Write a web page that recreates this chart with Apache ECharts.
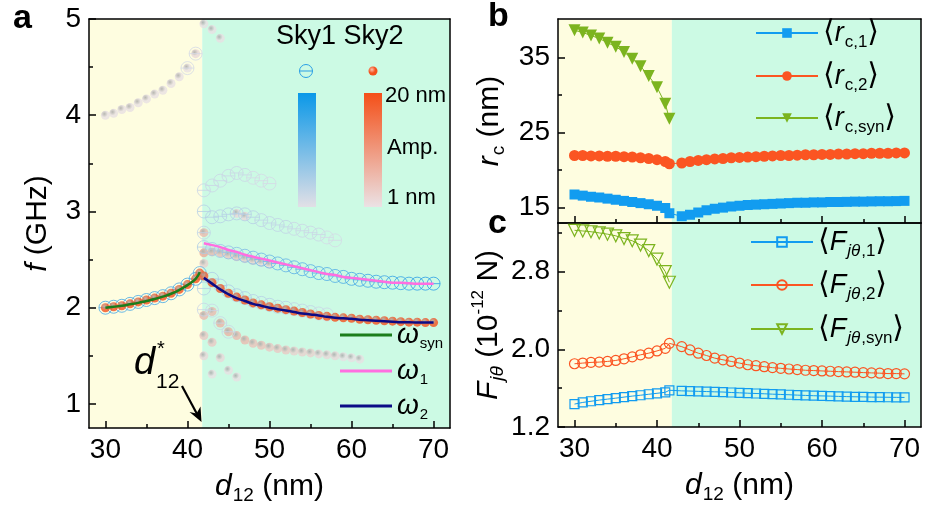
<!DOCTYPE html>
<html>
<head>
<meta charset="utf-8">
<script src="https://cdn.jsdelivr.net/npm/echarts@6/dist/echarts.min.js"></script>
<style>
  html, body { margin: 0; padding: 0; background: #fff; }
  #chart { width: 933px; height: 510px; }
</style>
</head>
<body>
<div id="chart"></div>
<script>
// ---------- panel a : mode frequencies f (GHz) vs d12 (nm) ----------
// synchronized region (both skyrmions share one mode)
const xSync = [30, 31, 32, 33, 34, 35, 36, 37, 38, 39, 40, 41, 41.5];
const fSync = [2.00, 2.01, 2.02, 2.04, 2.06, 2.08, 2.10, 2.12, 2.15, 2.19, 2.24, 2.30, 2.36];
const ampSync1 = [17, 17, 17, 17, 17, 17, 17, 17, 17, 17, 17, 16, 14];
const ampSync2 = [20, 20, 20, 20, 20, 20, 20, 20, 20, 20, 20, 20, 19];
const wSyn = [2.00, 2.01, 2.02, 2.035, 2.05, 2.07, 2.09, 2.115, 2.145, 2.185, 2.235, 2.30, 2.37];

// split region
const xSplit = [42, 43, 44, 45, 46, 47, 48, 49, 50, 51, 52, 53, 54, 55, 56, 57, 58, 59, 60, 61, 62, 63, 64, 65, 66, 67, 68, 69, 70];
const f1Split = [2.63, 2.61, 2.59, 2.575, 2.56, 2.54, 2.52, 2.50, 2.48, 2.46, 2.44, 2.42, 2.40, 2.38, 2.36, 2.35, 2.33, 2.32, 2.30, 2.29, 2.28, 2.27, 2.265, 2.26, 2.255, 2.25, 2.25, 2.25, 2.25];
const amp1Split = [6, 7, 8, 9, 10, 11, 12, 13, 13, 14, 14, 15, 15, 15, 16, 16, 16, 17, 17, 17, 18, 18, 18, 19, 19, 19, 20, 20, 20];
const f2Split = [2.33, 2.26, 2.20, 2.15, 2.11, 2.08, 2.05, 2.03, 2.01, 1.995, 1.98, 1.965, 1.95, 1.935, 1.92, 1.91, 1.90, 1.895, 1.89, 1.88, 1.875, 1.87, 1.865, 1.86, 1.855, 1.85, 1.85, 1.845, 1.845];
const amp2Split = [18, 19, 19, 20, 20, 20, 20, 20, 20, 20, 20, 20, 20, 20, 20, 20, 20, 20, 20, 20, 20, 20, 20, 20, 20, 20, 20, 20, 20];
const w1 = [2.67, 2.65, 2.63, 2.60, 2.58, 2.55, 2.53, 2.51, 2.49, 2.47, 2.45, 2.43, 2.41, 2.39, 2.37, 2.35, 2.34, 2.32, 2.31, 2.30, 2.29, 2.28, 2.27, 2.26, 2.26, 2.255, 2.25, 2.25, 2.25];
const w2 = [2.31, 2.25, 2.19, 2.14, 2.10, 2.07, 2.04, 2.02, 2.00, 1.985, 1.97, 1.955, 1.94, 1.93, 1.92, 1.905, 1.895, 1.89, 1.885, 1.875, 1.87, 1.865, 1.86, 1.855, 1.85, 1.85, 1.845, 1.845, 1.845];

// weak modes, [d12, f, amplitude nm]
const sky1Weak = [
  [42, 3.22, 3], [43, 3.27, 3], [44, 3.32, 3], [45, 3.37, 3], [46, 3.40, 3], [47, 3.38, 3], [48, 3.35, 2], [49, 3.32, 2], [50, 3.29, 2],
  [42, 3.00, 5], [43, 2.94, 5], [44, 2.95, 5], [45, 2.97, 5], [46, 2.98, 5], [47, 2.97, 5], [48, 2.94, 5], [49, 2.91, 4], [50, 2.88, 4],
  [51, 2.86, 4], [52, 2.84, 4], [53, 2.82, 3], [54, 2.80, 3], [55, 2.78, 3], [56, 2.76, 3], [57, 2.73, 2], [58, 2.70, 2],
  [42, 2.78, 4], [42, 2.20, 5], [42, 1.98, 3], [43, 1.97, 3], [40, 4.49, 2], [41, 4.64, 2],
  [43, 2.30, 6], [44, 2.23, 6], [45, 2.17, 6], [46, 2.13, 6], [47, 2.10, 6], [48, 2.07, 5], [49, 2.05, 5], [50, 2.03, 5],
  [51, 2.01, 5], [52, 2.00, 5], [53, 1.985, 4], [54, 1.97, 4], [55, 1.955, 4], [56, 1.94, 3], [57, 1.93, 3],
  [44, 1.84, 3], [45, 1.75, 3]
];
const sky2Weak = [
  [30, 4.00, 1], [31, 4.02, 1], [32, 4.06, 1], [33, 4.08, 1], [34, 4.13, 1], [35, 4.17, 1], [36, 4.22, 1], [37, 4.26, 1],
  [38, 4.33, 1], [39, 4.40, 1], [40, 4.49, 1], [41, 4.64, 2], [42, 4.95, 1], [43, 4.89, 1], [44, 4.80, 1],
  [46, 2.98, 2], [47, 2.95, 2], [42, 2.78, 6], [42, 2.46, 3],
  [42, 2.57, 8], [43, 2.58, 6], [44, 2.57, 5], [45, 2.55, 4], [46, 2.53, 4], [47, 2.51, 3], [48, 2.49, 3], [49, 2.47, 2], [50, 2.45, 2],
  [42, 1.92, 6], [43, 1.96, 6], [44, 1.84, 7], [45, 1.75, 7], [46, 1.71, 6], [47, 1.665, 6], [48, 1.63, 5], [49, 1.61, 5],
  [50, 1.59, 4], [51, 1.575, 4], [52, 1.56, 4], [53, 1.55, 3], [54, 1.54, 3], [55, 1.53, 3], [56, 1.52, 2], [57, 1.51, 2],
  [58, 1.50, 2], [59, 1.49, 1], [60, 1.48, 1], [61, 1.465, 1],
  [42, 1.71, 4], [43, 1.64, 4], [42, 1.50, 2], [44, 1.48, 2], [43, 1.31, 1], [45, 1.35, 1], [46, 1.28, 1]
];

// ---------- panels b, c ----------
const d12 = [30, 31, 32, 33, 34, 35, 36, 37, 38, 39, 40, 41, 41.5, 43, 44, 45, 46, 47, 48, 49, 50, 51, 52, 53, 54, 55, 56, 57, 58, 59, 60, 61, 62, 63, 64, 65, 66, 67, 68, 69, 70];
const rc1 = [16.7, 16.55, 16.4, 16.3, 16.15, 16.0, 15.85, 15.7, 15.55, 15.4, 15.2, 14.9, 14.2,
  13.8, 14.0, 14.3, 14.6, 14.8, 14.95, 15.1, 15.2, 15.3, 15.35, 15.4, 15.45, 15.5, 15.55, 15.6, 15.6, 15.65, 15.65, 15.7, 15.7, 15.72, 15.75, 15.75, 15.78, 15.8, 15.8, 15.82, 15.85];
const rc2 = [21.9, 21.9, 21.85, 21.85, 21.8, 21.8, 21.75, 21.7, 21.6, 21.5, 21.35, 21.1, 20.8,
  20.9, 21.1, 21.25, 21.35, 21.45, 21.5, 21.6, 21.65, 21.7, 21.75, 21.8, 21.85, 21.9, 21.9, 21.95, 22.0, 22.0, 22.05, 22.05, 22.1, 22.1, 22.15, 22.15, 22.2, 22.2, 22.2, 22.25, 22.25];
const rcSyn = [38.6, 38.3, 37.9, 37.5, 36.95, 36.4, 35.7, 34.8, 33.8, 32.5, 31.0, 28.8, 26.8];
const F1 = [1.436, 1.453, 1.465, 1.477, 1.487, 1.497, 1.508, 1.518, 1.527, 1.537, 1.547, 1.557, 1.578,
  1.572, 1.570, 1.567, 1.565, 1.562, 1.560, 1.555, 1.552, 1.548, 1.545, 1.542, 1.538, 1.535, 1.532, 1.528, 1.525, 1.522, 1.520, 1.518, 1.515, 1.513, 1.511, 1.510, 1.508, 1.507, 1.506, 1.505, 1.504];
const F2 = [1.851, 1.858, 1.865, 1.868, 1.875, 1.885, 1.902, 1.922, 1.943, 1.960, 1.983, 2.010, 2.061,
  2.027, 1.993, 1.960, 1.936, 1.909, 1.892, 1.875, 1.858, 1.841, 1.831, 1.821, 1.811, 1.804, 1.797, 1.791, 1.784, 1.781, 1.777, 1.774, 1.770, 1.767, 1.764, 1.760, 1.757, 1.754, 1.750, 1.750, 1.747];
const Fsyn = [3.225, 3.218, 3.21, 3.198, 3.185, 3.168, 3.14, 3.117, 3.073, 3.016, 2.928, 2.80, 2.69];

// ticks
const xMajor = [30, 40, 50, 60, 70];
const xMinor = [35, 45, 55, 65];
const yaMajor = [1, 2, 3, 4, 5];
const yaMinor = [1.5, 2.5, 3.5, 4.5];
const ybMajor = [15, 25, 35];
const ybMinor = [20, 30];
const ycMajor = [1.2, 2.0, 2.8];
const ycMinor = [1.6, 2.4, 3.2];

const FONT = '"Liberation Sans", Arial, sans-serif';
const BLUE_A = '#2a9fe6', PALE_BLUE = '#dddde6';
const ORANGE_A = '#f4511e', PALE_ORANGE = '#e8e0e3';
const BLUE = '#129cf0', RED = '#fb5522', GREEN = '#7cb41f';
const YELLOW_BG = '#fefde0', GREEN_BG = '#ccfae4';
const SKY1_PATH = 'path://M0,10A10,10,0,1,1,20,10A10,10,0,1,1,0,10ZM0,10L20,10';

function mix(c1, c2, t) {
  const a = parseInt(c1.slice(1), 16), b = parseInt(c2.slice(1), 16);
  const ch = (v, s) => (v >> s) & 255;
  const m = s => Math.round(ch(a, s) + (ch(b, s) - ch(a, s)) * t);
  return 'rgb(' + m(16) + ',' + m(8) + ',' + m(0) + ')';
}
function ampT(a) { return Math.max(0, Math.min(1, (a - 1) / 19)); }
function sphere(c) {
  return {
    type: 'radial', x: 0.38, y: 0.35, r: 0.7,
    colorStops: [{ offset: 0, color: mix('#ffffff', c, 0.35) }, { offset: 0.55, color: c }, { offset: 1, color: c }]
  };
}
function sky1Item(x, f, a) {
  return { value: [x, f], itemStyle: { borderColor: mix(PALE_BLUE, BLUE_A, ampT(a)) } };
}
function sky2Item(x, f, a) {
  return { value: [x, f], itemStyle: { color: sphere(mix(PALE_ORANGE, ORANGE_A, ampT(a))) } };
}

const sky1Strong = xSync.map((x, i) => sky1Item(x, fSync[i], ampSync1[i]))
  .concat(xSplit.map((x, i) => sky1Item(x, f1Split[i], amp1Split[i])));
const sky2Strong = xSync.map((x, i) => sky2Item(x, fSync[i], ampSync2[i]))
  .concat(xSplit.map((x, i) => sky2Item(x, f2Split[i], amp2Split[i])));

// ---------- axes ----------
const axisColor = '#000';
const nameRich = {
  i: { fontSize: 30, fontStyle: 'italic', fontFamily: FONT, color: axisColor },
  n: { fontSize: 30, fontFamily: FONT, color: axisColor },
  s: { fontSize: 19, fontFamily: FONT, color: axisColor, verticalAlign: 'bottom', padding: [18, 0, 0, 1] },
  si: { fontSize: 19, fontStyle: 'italic', fontFamily: FONT, color: axisColor, verticalAlign: 'bottom', padding: [18, 0, 0, 1] },
  p: { fontSize: 17, fontFamily: FONT, color: axisColor, verticalAlign: 'top', padding: [0, 0, 15, 0] }
};
function mainX(grid, showLabel) {
  return {
    type: 'value', gridIndex: grid, min: 28, max: 72, position: 'bottom', z: 3,
    axisLine: { show: true, onZero: false, lineStyle: { color: axisColor, width: 1.5 } },
    axisTick: { show: true, inside: true, length: 7, customValues: xMajor, lineStyle: { color: axisColor, width: 1.5 } },
    axisLabel: { show: showLabel, customValues: xMajor, fontSize: 28, color: axisColor, fontFamily: FONT, margin: 8 },
    splitLine: { show: false },
    name: showLabel ? '{i|d}{s|12}{n| (nm)}' : '', nameLocation: 'middle', nameGap: 40,
    nameTextStyle: { rich: nameRich }
  };
}
function edgeX(grid) {
  return {
    type: 'value', gridIndex: grid, min: 28, max: 72, position: 'top', z: 3,
    axisLine: { show: true, onZero: false, lineStyle: { color: axisColor, width: 1.5 } },
    axisTick: { show: false }, axisLabel: { show: false }, splitLine: { show: false }
  };
}
function minorX(grid) {
  return {
    type: 'value', gridIndex: grid, min: 28, max: 72, position: 'bottom', z: 3,
    axisLine: { show: false, onZero: false },
    axisTick: { show: true, inside: true, length: 4, customValues: xMinor, lineStyle: { color: axisColor, width: 1.5 } },
    axisLabel: { show: false }, splitLine: { show: false }
  };
}
function mainY(grid, min, max, major, name, gap) {
  return {
    type: 'value', gridIndex: grid, min: min, max: max, position: 'left', z: 3,
    axisLine: { show: true, onZero: false, lineStyle: { color: axisColor, width: 1.5 } },
    axisTick: { show: true, inside: true, length: 7, customValues: major, lineStyle: { color: axisColor, width: 1.5 } },
    axisLabel: { show: true, customValues: major, fontSize: 28, color: axisColor, fontFamily: FONT, margin: 8,
      formatter: v => (grid === 2 ? v.toFixed(1) : String(v)) },
    splitLine: { show: false },
    name: name, nameLocation: 'middle', nameRotate: 90, nameGap: gap,
    nameTextStyle: { rich: nameRich }
  };
}
function edgeY(grid, min, max) {
  return {
    type: 'value', gridIndex: grid, min: min, max: max, position: 'right', z: 3,
    axisLine: { show: true, onZero: false, lineStyle: { color: axisColor, width: 1.5 } },
    axisTick: { show: false }, axisLabel: { show: false }, splitLine: { show: false }
  };
}
function minorY(grid, min, max, ticks) {
  return {
    type: 'value', gridIndex: grid, min: min, max: max, position: 'left', z: 3,
    axisLine: { show: false, onZero: false },
    axisTick: { show: true, inside: true, length: 4, customValues: ticks, lineStyle: { color: axisColor, width: 1.5 } },
    axisLabel: { show: false }, splitLine: { show: false }
  };
}

const gA = { left: 89, top: 19, width: 361, height: 409 };
const gB = { left: 558, top: 19, width: 363, height: 204 };
const gC = { left: 558, top: 223, width: 363, height: 204 };

function bands(xi, yi) {
  return {
    type: 'line', xAxisIndex: xi, yAxisIndex: yi, data: [], z: 1, silent: true,
    markArea: {
      silent: true,
      data: [
        [{ xAxis: 28, itemStyle: { color: YELLOW_BG } }, { xAxis: 41.8 }],
        [{ xAxis: 41.8, itemStyle: { color: GREEN_BG } }, { xAxis: 72 }]
      ]
    }
  };
}

// ---------- legends ----------
const legRichA = {
  w: { fontSize: 28, fontStyle: 'italic', fontFamily: FONT, color: '#000' },
  s: { fontSize: 15, fontFamily: FONT, color: '#000', verticalAlign: 'bottom', padding: [17, 0, 0, 1] }
};
const legRichB = {
  a: { fontSize: 30, fontFamily: '"DejaVu Sans", sans-serif', color: '#000' },
  i: { fontSize: 27, fontStyle: 'italic', fontFamily: FONT, color: '#000' },
  s: { fontSize: 17, fontFamily: FONT, color: '#000', verticalAlign: 'bottom', padding: [18, 0, 0, 1] },
  si: { fontSize: 17, fontStyle: 'italic', fontFamily: FONT, color: '#000', verticalAlign: 'bottom', padding: [18, 0, 0, 1] }
};
function legW(name, text, top) {
  return {
    data: [name], left: 340, top: top, padding: 0, itemWidth: 52, itemHeight: 3, icon: 'rect',
    selectedMode: false, formatter: text, textStyle: { rich: legRichA }
  };
}
function legB(name, text, left, top) {
  return {
    data: [name], left: left, top: top, padding: 0, itemWidth: 62, itemHeight: 12, itemGap: 0,
    selectedMode: false, formatter: text, textStyle: { rich: legRichB }
  };
}

// ---------- series ----------
const series = [
  bands(0, 0), bands(2, 2), bands(4, 4),
  {
    name: 'sky2Weak', type: 'scatter', xAxisIndex: 0, yAxisIndex: 0, symbol: 'circle', symbolSize: 9,
    data: sky2Weak.map(p => sky2Item(p[0], p[1], p[2]))
  },
  {
    name: 'sky1Weak', type: 'scatter', xAxisIndex: 0, yAxisIndex: 0, symbol: SKY1_PATH, symbolSize: 13,
    itemStyle: { color: 'rgba(0,0,0,0)', borderWidth: 1 },
    data: sky1Weak.map(p => sky1Item(p[0], p[1], p[2]))
  },
  {
    name: 'Sky1', type: 'scatter', xAxisIndex: 0, yAxisIndex: 0, symbol: SKY1_PATH, symbolSize: 13,
    itemStyle: { color: 'rgba(0,0,0,0)', borderWidth: 1 }, data: sky1Strong
  },
  {
    name: 'Sky2', type: 'scatter', xAxisIndex: 0, yAxisIndex: 0, symbol: 'circle', symbolSize: 9, data: sky2Strong
  },
  {
    name: 'w_syn', type: 'line', xAxisIndex: 0, yAxisIndex: 0, symbol: 'none', smooth: true, z: 4,
    lineStyle: { color: '#1b7d1b', width: 2.5 }, itemStyle: { color: '#1b7d1b' },
    data: xSync.map((x, i) => [x, wSyn[i]])
  },
  {
    name: 'w_1', type: 'line', xAxisIndex: 0, yAxisIndex: 0, symbol: 'none', smooth: true, z: 4,
    lineStyle: { color: '#ff6ee0', width: 2.5 }, itemStyle: { color: '#ff6ee0' },
    data: xSplit.map((x, i) => [x, w1[i]])
  },
  {
    name: 'w_2', type: 'line', xAxisIndex: 0, yAxisIndex: 0, symbol: 'none', smooth: true, z: 4,
    lineStyle: { color: '#0b0b86', width: 2.5 }, itemStyle: { color: '#0b0b86' },
    data: xSplit.map((x, i) => [x, w2[i]])
  },
  // panel b
  {
    name: 'rc1', type: 'line', xAxisIndex: 2, yAxisIndex: 2, symbol: 'rect', symbolSize: 10,
    lineStyle: { color: BLUE, width: 1 }, itemStyle: { color: BLUE },
    data: d12.map((x, i) => [x, rc1[i]])
  },
  {
    name: 'rc2', type: 'line', xAxisIndex: 2, yAxisIndex: 2, symbol: 'circle', symbolSize: 11,
    lineStyle: { color: RED, width: 1 }, itemStyle: { color: RED },
    data: d12.map((x, i) => [x, rc2[i]])
  },
  {
    name: 'rcsyn', type: 'line', xAxisIndex: 2, yAxisIndex: 2, symbol: 'triangle', symbolRotate: 180, symbolSize: 12,
    lineStyle: { color: GREEN, width: 1 }, itemStyle: { color: GREEN },
    data: xSync.map((x, i) => [x, rcSyn[i]])
  },
  // panel c
  {
    name: 'F1', type: 'line', xAxisIndex: 4, yAxisIndex: 4, symbol: 'rect', symbolSize: 9,
    lineStyle: { color: BLUE, width: 1 }, itemStyle: { color: 'rgba(255,255,255,0)', borderColor: BLUE, borderWidth: 1.2 },
    data: d12.map((x, i) => [x, F1[i]])
  },
  {
    name: 'F2', type: 'line', xAxisIndex: 4, yAxisIndex: 4, symbol: 'circle', symbolSize: 10,
    lineStyle: { color: RED, width: 1 }, itemStyle: { color: 'rgba(255,255,255,0)', borderColor: RED, borderWidth: 1.2 },
    data: d12.map((x, i) => [x, F2[i]])
  },
  {
    name: 'Fsyn', type: 'line', xAxisIndex: 4, yAxisIndex: 4, symbol: 'triangle', symbolRotate: 180, symbolSize: 12,
    lineStyle: { color: GREEN, width: 1 }, itemStyle: { color: 'rgba(255,255,255,0)', borderColor: GREEN, borderWidth: 1.2 },
    data: xSync.map((x, i) => [x, Fsyn[i]])
  }
];

// ---------- annotations ----------
const txt = (text, x, y, size, extra) => ({
  type: 'text', x: x, y: y, z: 100, silent: true,
  style: Object.assign({ text: text, fontSize: size, fontFamily: FONT, fill: '#000', verticalAlign: 'top' }, extra || {})
});
const graphic = [
  txt('a', 13, 2, 34, { fontWeight: 'bold' }),
  txt('b', 488, 0, 34, { fontWeight: 'bold' }),
  txt('c', 488, 207, 34, { fontWeight: 'bold' }),
  txt('Sky1 Sky2', 276, 23, 27),
  { type: 'circle', z: 100, silent: true, shape: { cx: 306, cy: 71, r: 6.5 }, style: { fill: 'none', stroke: BLUE_A, lineWidth: 1 } },
  { type: 'line', z: 100, silent: true, shape: { x1: 299.5, y1: 71, x2: 312.5, y2: 71 }, style: { stroke: BLUE_A, lineWidth: 1 } },
  { type: 'circle', z: 100, silent: true, shape: { cx: 373, cy: 71, r: 4.5 }, style: { fill: sphere(ORANGE_A) } },
  {
    type: 'rect', z: 100, silent: true, shape: { x: 298, y: 93, width: 18, height: 114 },
    style: { fill: { type: 'linear', x: 0, y: 0, x2: 0, y2: 1, colorStops: [{ offset: 0, color: '#0a98e8' }, { offset: 1, color: '#e2e0e6' }] } }
  },
  {
    type: 'rect', z: 100, silent: true, shape: { x: 364, y: 93, width: 18, height: 114 },
    style: { fill: { type: 'linear', x: 0, y: 0, x2: 0, y2: 1, colorStops: [{ offset: 0, color: '#f44f18' }, { offset: 1, color: '#ebe2e5' }] } }
  },
  txt('20 nm', 385, 85, 22),
  txt('Amp.', 387, 137, 22),
  txt('1 nm', 387, 187, 22),
  txt('d', 134, 344, 38, { fontStyle: 'italic' }),
  txt('*', 157, 339, 20),
  txt('12', 156, 372, 21),
  { type: 'line', z: 100, silent: true, shape: { x1: 182, y1: 386, x2: 197, y2: 414 }, style: { stroke: '#000', lineWidth: 2.2 } },
  { type: 'polygon', z: 100, silent: true, shape: { points: [[201.5, 422], [189.5, 412], [196.5, 413.5], [200.5, 406.5]] }, style: { fill: '#000' } }
];

const chart = echarts.init(document.getElementById('chart'), null, { renderer: 'canvas' });
chart.setOption({
  animation: false,
  backgroundColor: '#fff',
  grid: [
    Object.assign({}, gA), Object.assign({}, gB), Object.assign({}, gC),
    Object.assign({}, gA), Object.assign({}, gB), Object.assign({}, gC)
  ],
  xAxis: [mainX(0, true), edgeX(0), mainX(1, false), edgeX(1), mainX(2, true), edgeX(2), minorX(3), minorX(4), minorX(5)],
  yAxis: [
    mainY(0, 0.75, 5, yaMajor, '{i|f}{n| (GHz)}', 36), edgeY(0, 0.75, 5),
    mainY(1, 12.9, 40.1, ybMajor, '{i|r}{s|c}{n| (nm)}', 50), edgeY(1, 12.9, 40.1),
    mainY(2, 1.2, 3.3, ycMajor, '{i|F}{si|jθ}{n| (10}{p|-12}{n| N)}', 50), edgeY(2, 1.2, 3.3),
    minorY(3, 0.75, 5, yaMinor), minorY(4, 12.9, 40.1, ybMinor), minorY(5, 1.2, 3.3, ycMinor)
  ],
  legend: [
    legW('w_syn', '{w|ω}{s|syn}', 321),
    legW('w_1', '{w|ω}{s|1}', 357),
    legW('w_2', '{w|ω}{s|2}', 392),
    legB('rc1', '{a|⟨}{i|r}{s|c,1}{a|⟩}', 755, 18),
    legB('rc2', '{a|⟨}{i|r}{s|c,2}{a|⟩}', 755, 61),
    legB('rcsyn', '{a|⟨}{i|r}{s|c,syn}{a|⟩}', 755, 103),
    legB('F1', '{a|⟨}{i|F}{si|jθ}{s|,1}{a|⟩}', 750, 227),
    legB('F2', '{a|⟨}{i|F}{si|jθ}{s|,2}{a|⟩}', 750, 270),
    legB('Fsyn', '{a|⟨}{i|F}{si|jθ}{s|,syn}{a|⟩}', 750, 314)
  ],
  graphic: graphic,
  series: series
});
window.addEventListener('resize', () => chart.resize());
</script>
</body>
</html>
